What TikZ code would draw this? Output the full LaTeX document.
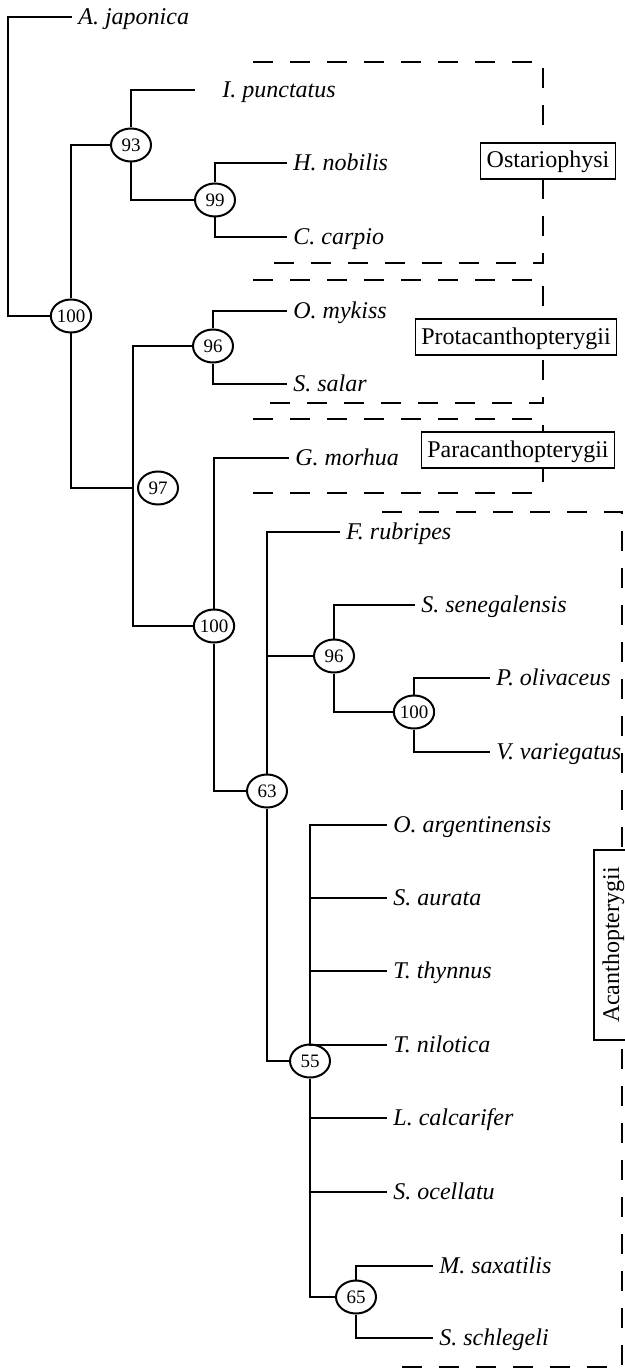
\documentclass[tikz,border=0pt]{standalone}
\usepackage{fontspec}
\setmainfont{Liberation Serif}
\usetikzlibrary{shapes.geometric}
\begin{document}
\begin{tikzpicture}[x=0.5pt,y=-0.5pt,
  br/.style={line width=0.65pt},
  bs/.style={ellipse, draw, line width=1pt, fill=white, minimum width=20pt, minimum height=16.5pt, inner sep=0pt, font=\fontsize{9.5}{10}\selectfont},
  leaf/.style={anchor=west, inner xsep=3pt, inner ysep=0pt, text height=7.9pt, text depth=0pt, font=\fontsize{12}{14}\selectfont\itshape},
  clade/.style={draw, line width=0.65pt, fill=white, font=\fontsize{12}{14}\selectfont, inner xsep=3pt, text height=8pt, text depth=1pt, minimum height=18pt},
  grp/.style={line width=1pt, dash pattern=on 10pt off 8.5pt}
]
\useasboundingbox (0,0) rectangle (625,1369);

% group dashed outlines
\draw[grp] (253,62) -- (543,62) -- (543,263) -- (267,263);
\draw[grp] (253,280) -- (543,280) -- (543,403) -- (263,403);
\draw[grp] (253,419) -- (543,419) -- (543,488);
\draw[grp] (253,493) -- (532,493);
\draw[grp] (382,512) -- (622,512) -- (622,1367) -- (388,1367);

% clade labels
\node[clade] (ost) at (548,161) {Ostariophysi};
\node[clade] (pro) at (516,337) {Protacanthopterygii};
\node[clade] (par) at (518,450) {Paracanthopterygii};
\node[clade, rotate=90, minimum width=95pt] (aca) at (612,945) {Acanthopterygii};

% internal nodes
\coordinate (rootc) at (8,316);
\node[bs] (r100) at (71,316) {100};
\node[bs] (n93) at (131,145) {93};
\node[bs] (n99) at (215,200) {99};
\coordinate (j97) at (133,488);
\node[bs] (n97) at (158,488) {97};
\node[bs] (n96a) at (213,346) {96};
\node[bs] (n100b) at (214,626) {100};
\node[bs] (n63) at (267,791) {63};
\node[bs] (n96b) at (334,656) {96};
\node[bs] (n100c) at (414,712) {100};
\node[bs] (n55) at (310,1061) {55};
\node[bs] (n65) at (356,1297) {65};

% leaves
\node[leaf] (aj) at (72,17) {A. japonica};
\coordinate (ipE) at (195,90);
\node[leaf] (ip) at (216,90) {I. punctatus};
\node[leaf] (hn) at (287,163) {H. nobilis};
\node[leaf] (cc) at (287,237) {C. carpio};
\node[leaf] (om) at (287,311) {O. mykiss};
\node[leaf] (ssa) at (287,384) {S. salar};
\node[leaf] (gm) at (289,458) {G. morhua};
\node[leaf] (fr) at (340,532) {F. rubripes};
\node[leaf] (sse) at (415,605) {S. senegalensis};
\node[leaf] (po) at (490,678) {P. olivaceus};
\node[leaf] (vv) at (490,752) {V. variegatus};
\node[leaf] (oa) at (387,825) {O. argentinensis};
\node[leaf] (sau) at (387,898) {S. aurata};
\node[leaf] (tt) at (387,971) {T. thynnus};
\node[leaf] (tn) at (387,1045) {T. nilotica};
\node[leaf] (lc) at (387,1118) {L. calcarifer};
\node[leaf] (so) at (387,1192) {S. ocellatu};
\node[leaf] (ms) at (433,1266) {M. saxatilis};
\node[leaf] (ssc) at (433,1338) {S. schlegeli};

% branches
\draw[br] (aj.west) -| (rootc) -- (r100);
\draw[br] (r100) |- (n93);
\draw[br] (r100) |- (j97);
\draw[br] (n93) |- (ipE);
\draw[br] (n93) |- (n99);
\draw[br] (n99) |- (hn.west);
\draw[br] (n99) |- (cc.west);
\draw[br] (n96a) -| (j97);
\draw[br] (n100b) -| (j97);
\draw[br] (n96a) |- (om.west);
\draw[br] (n96a) |- (ssa.west);
\draw[br] (n100b) |- (gm.west);
\draw[br] (n100b) |- (n63);
\draw[br] (n63) |- (fr.west);
\draw[br] (n63) |- (n96b);
\draw[br] (n63) |- (n55);
\draw[br] (n96b) |- (sse.west);
\draw[br] (n96b) |- (n100c);
\draw[br] (n100c) |- (po.west);
\draw[br] (n100c) |- (vv.west);
\draw[br] (n55) |- (oa.west);
\draw[br] (n55) |- (sau.west);
\draw[br] (n55) |- (tt.west);
\draw[br] (n55) |- (tn.west);
\draw[br] (n55) |- (lc.west);
\draw[br] (n55) |- (so.west);
\draw[br] (n55) |- (n65);
\draw[br] (n65) |- (ms.west);
\draw[br] (n65) |- (ssc.west);
\end{tikzpicture}
\end{document}
